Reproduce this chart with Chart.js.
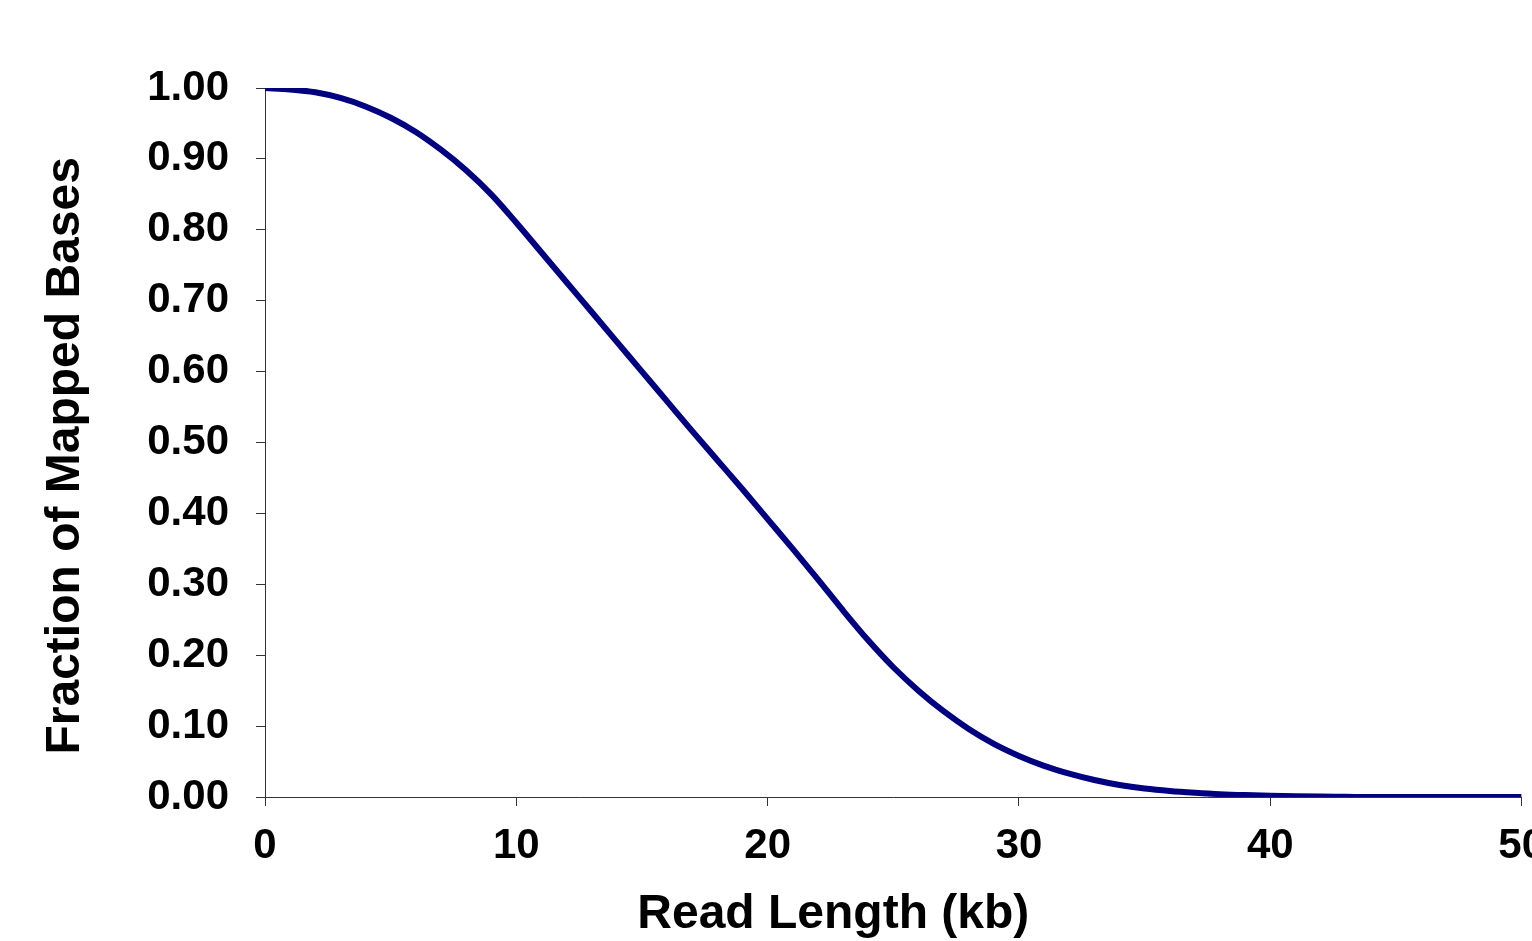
<!DOCTYPE html>
<html>
<head>
<meta charset="utf-8">
<script src="https://cdn.jsdelivr.net/npm/chart.js@4"></script>
<style>
  html, body { margin: 0; padding: 0; background: #fff; overflow: hidden; }
  #wrap { position: absolute; left: 0; top: 0; width: 1560px; height: 960px; }
</style>
</head>
<body>
<div id="wrap"><canvas id="c" width="1560" height="960"></canvas></div>
<script>
// Data
const readLengthKb = [0,1,2,3,4,5,6,7,8,9,10,11,12,13,14,15,16,17,18,19,20,21,22,23,24,25,26,27,28,29,30,31,32,33,34,35,36,37,38,39,40,41,42,43,44,45,46,47,48,49,50];
const fractionMapped = [1.000,0.998,0.994,0.986,0.974,0.958,0.938,0.913,0.884,0.850,0.810,0.768,0.726,0.684,0.642,0.600,0.558,0.516,0.475,0.434,0.392,0.350,0.307,0.263,0.221,0.183,0.150,0.121,0.096,0.075,0.058,0.044,0.033,0.024,0.017,0.012,0.0085,0.006,0.004,0.0027,0.0018,0.0011,0.0006,0.0003,0,0,0,0,0,0,0];
const xTicks = [0,10,20,30,40,50];
const yTicks = [0,0.1,0.2,0.3,0.4,0.5,0.6,0.7,0.8,0.9,1.0];
const xTitle = 'Read Length (kb)';
const yTitle = 'Fraction of Mapped Bases';

const FAMILY = '"Liberation Sans", Arial, Helvetica, sans-serif';
const points = readLengthKb.map((x, i) => ({ x: x, y: fractionMapped[i] }));

new Chart(document.getElementById('c'), {
  type: 'line',
  data: {
    datasets: [{
      data: points,
      borderColor: '#000080',
      backgroundColor: '#000080',
      borderWidth: 6,
      pointRadius: 0,
      fill: false,
      cubicInterpolationMode: 'monotone',
      borderCapStyle: 'butt'
    }]
  },
  options: {
    responsive: false,
    animation: false,
    devicePixelRatio: 1,
    layout: { padding: { top: 88, right: 30, left: 0, bottom: 0 } },
    plugins: { legend: { display: false }, tooltip: { enabled: false } },
    scales: {
      x: {
        type: 'linear',
        min: xTicks[0],
        max: xTicks[xTicks.length - 1],
        afterBuildTicks: (s) => { s.ticks = xTicks.map(v => ({ value: v })); },
        afterFit: (s) => { s.height = 163; },
        ticks: {
          color: '#000',
          font: { family: FAMILY, size: 42, weight: 'bold' },
          padding: 15,
          maxRotation: 0,
          autoSkip: false,
          callback: (v) => String(v)
        },
        grid: { drawOnChartArea: false, drawTicks: true, tickLength: 9, color: '#333', lineWidth: 1 },
        border: { display: true, color: '#333', width: 1 },
        title: {
          display: true,
          text: xTitle + '         ',
          color: '#000',
          font: { family: FAMILY, size: 48, weight: 'bold' },
          padding: { top: 0, bottom: 16 }
        }
      },
      y: {
        type: 'linear',
        min: 0,
        max: 1,
        afterBuildTicks: (s) => { s.ticks = yTicks.map(v => ({ value: v })); },
        afterFit: (s) => { s.width = 265; },
        ticks: {
          color: '#000',
          font: { family: FAMILY, size: 42, weight: 'bold' },
          padding: 27,
          autoSkip: false,
          callback: (v) => Number(v).toFixed(2)
        },
        grid: { drawOnChartArea: false, drawTicks: true, tickLength: 9, color: '#333', lineWidth: 1 },
        border: { display: true, color: '#333', width: 1 },
        title: {
          display: true,
          text: yTitle + '  ',
          color: '#000',
          font: { family: FAMILY, size: 48, weight: 'bold' },
          padding: { top: 37, bottom: 0 }
        }
      }
    }
  }
});
</script>
</body>
</html>
